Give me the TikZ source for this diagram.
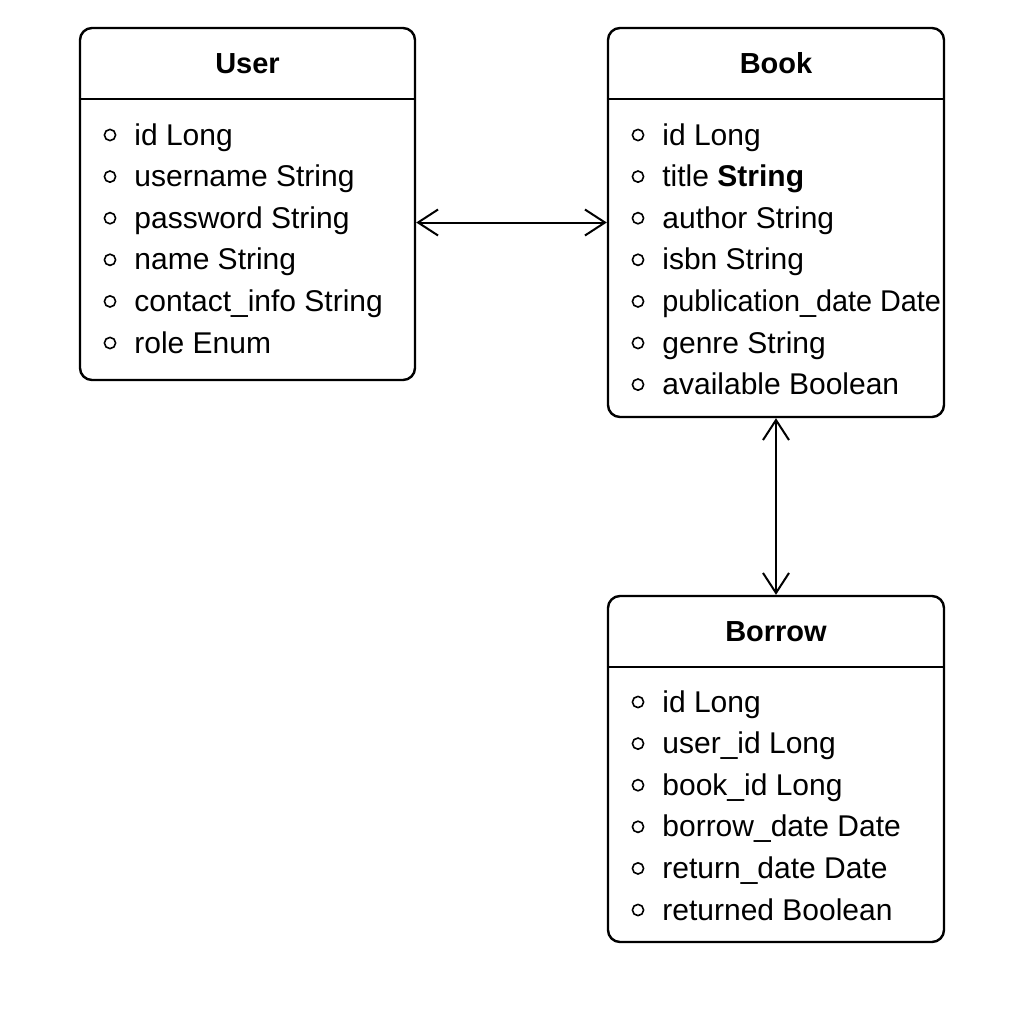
\documentclass[tikz,border=0pt]{standalone}
\usepackage{fontspec}
\setmainfont{Liberation Sans}
\usetikzlibrary{arrows.meta,calc}
\tikzset {>={Straight Barb[length=10pt,width=13pt]}}
\tikzset{classbox/.style={draw,line width=1.2pt,rounded corners=6pt,inner sep=0pt},
  classname/.style={anchor=base,inner sep=0pt,font=\bfseries\fontsize{14.5}{16}\selectfont},
  attr/.style={anchor=base west,inner sep=0pt,font=\fontsize{15}{18}\selectfont},
  dot/.style={draw,circle,line width=0.8pt,minimum size=5.6pt,inner sep=0pt}}

\begin{document}
\begin{tikzpicture}[x=0.5pt,y=-0.5pt]
\useasboundingbox (0,0) rectangle (1024,1024);
% classes
\node[classbox,minimum width=167.5pt,minimum height=176pt] (user) at (247.5,204) {};
\node[classbox,minimum width=168pt,minimum height=194.5pt] (book) at (776,222.5) {};
\node[classbox,minimum width=168pt,minimum height=173pt] (borrow) at (776,769) {};
\draw[line width=1.2pt] (user.west |- 0,99) -- (user.east |- 0,99);
\draw[line width=1.2pt] (book.west |- 0,99) -- (book.east |- 0,99);
\draw[line width=1.2pt] (borrow.west |- 0,667) -- (borrow.east |- 0,667);
\node[classname] (usertitle) at (247.5,73) {User};
\node[classname] (booktitle) at (776,73) {Book};
\node[classname] (borrowtitle) at (776,641) {Borrow};
% attributes
\foreach \t [count=\i from 0] in {id Long,username String,password String,name String,contact\_info String,role Enum} {
  \node[dot] (ud\i) at (110,{135+41.6*\i}) {};
  \node[attr] (ua\i) at (134,{145+41.6*\i}) {\t};
}
\foreach \t [count=\i from 0] in {id Long,title \textbf{String},author String,isbn String,\scalebox{0.96}[1]{publication\_date Date},genre String,available Boolean} {
  \node[dot] (bd\i) at (638,{135+41.6*\i}) {};
  \node[attr] (ba\i) at (662,{145+41.6*\i}) {\t};
}
\foreach \t [count=\i from 0] in {id Long,user\_id Long,book\_id Long,borrow\_date\ Date,return\_date Date,returned Boolean} {
  \node[dot] (rd\i) at (638,{702+41.6*\i}) {};
  \node[attr] (ra\i) at (662,{712+41.6*\i}) {\t};
}
% relations
\draw[<->,line width=1pt] (user.east |- book.west) -- (book.west);
\draw[<->,line width=1pt] (book.south) -- (borrow.north);
\end{tikzpicture}
\end{document}
